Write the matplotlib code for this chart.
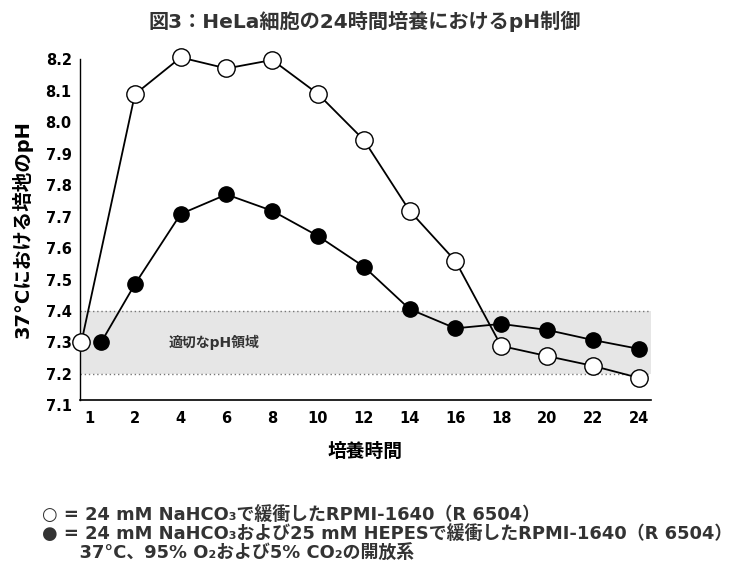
import numpy as np
import matplotlib.pyplot as plt

plt.rcParams['font.family'] = ['DejaVu Sans', 'Noto Sans CJK JP']
plt.rcParams['font.weight'] = 'bold'

hours = ['1', '2', '4', '6', '8', '10', '12', '14', '16', '18', '20', '22', '24']
ph_bicarb = [7.30, 8.088, 8.205, 8.170, 8.197, 8.089, 7.943, 7.718, 7.559, 7.289, 7.257, 7.226, 7.188]
ph_hepes = [7.30, 7.485, 7.708, 7.770, 7.718, 7.638, 7.541, 7.406, 7.345, 7.359, 7.340, 7.308, 7.280]
good_range = (7.2, 7.4)
yticks = [7.1, 7.2, 7.3, 7.4, 7.5, 7.6, 7.7, 7.8, 7.9, 8.0, 8.1, 8.2]

fig = plt.figure(figsize=(7.33, 5.68), dpi=100)
ax = fig.add_axes([0.1091, 0.2861, 0.888 - 0.1091, 0.9072 - 0.2861])

x = np.arange(len(hours), dtype=float)
# the first two points sit side by side in the original
x_open = x.copy()
x_open[0] -= 0.17
x_fill = x.copy()
x_fill[0] += 0.26

ax.axhspan(good_range[0], good_range[1], color='#e6e6e6', zorder=0, lw=0)
for v in good_range:
    ax.axhline(v, color='#777777', lw=1.0, ls=(0, (1, 2)), zorder=1)

ax.plot(x_open, ph_bicarb, color='black', lw=1.3, marker='o', ms=12.5,
        mfc='white', mec='black', mew=1.0, zorder=3, clip_on=False)
ax.plot(x_fill, ph_hepes, color='black', lw=1.3, marker='o', ms=11,
        mfc='black', mec='black', zorder=3, clip_on=False)

ax.text(2.72, 7.3, '適切なpH領域', fontsize=10, color='#333333',
        ha='center', va='center', fontweight='bold')

ax.set_xlim(-0.2, 12.27)
ax.set_ylim(7.1, 8.22)
ax.set_xticks(x)
ax.set_xticklabels(hours)
ax.set_yticks(yticks)
ax.set_yticklabels(['%.1f' % t for t in yticks])
ax.tick_params(length=0, labelsize=10.5)
ax.tick_params(axis='x', pad=7.5)
ax.tick_params(axis='y', pad=6)

for s in ['top', 'right']:
    ax.spines[s].set_visible(False)
ax.spines['bottom'].set_position(('data', 7.117))
ax.spines['bottom'].set_bounds(-0.2, 12.27)
ax.spines['left'].set_bounds(7.117, 8.2)
ax.spines['left'].set_linewidth(1.0)
ax.spines['bottom'].set_linewidth(1.2)

ax.set_xlabel('培養時間', fontsize=13.5, fontweight='bold', labelpad=12)
ax.set_ylabel('37°Cにおける培地のpH', fontsize=14, fontweight='bold', labelpad=9)

fig.text(0.497, 0.962, '図3：HeLa細胞の24時間培養におけるpH制御', fontsize=14.5,
         fontweight='bold', color='#333333', ha='center', va='center')

legend_lines = [
    '○ = 24 mM NaHCO₃で緩衝したRPMI-1640（R 6504）',
    '● = 24 mM NaHCO₃および25 mM HEPESで緩衝したRPMI-1640（R 6504）',
    '      37°C、95% O₂および5% CO₂の開放系',
]
for i, line in enumerate(legend_lines):
    fig.text(0.057, 0.092 - i * 0.033, line, fontsize=12.9, fontweight='bold',
             color='#333333', ha='left', va='center')

fig.savefig('out.png', dpi=100)
